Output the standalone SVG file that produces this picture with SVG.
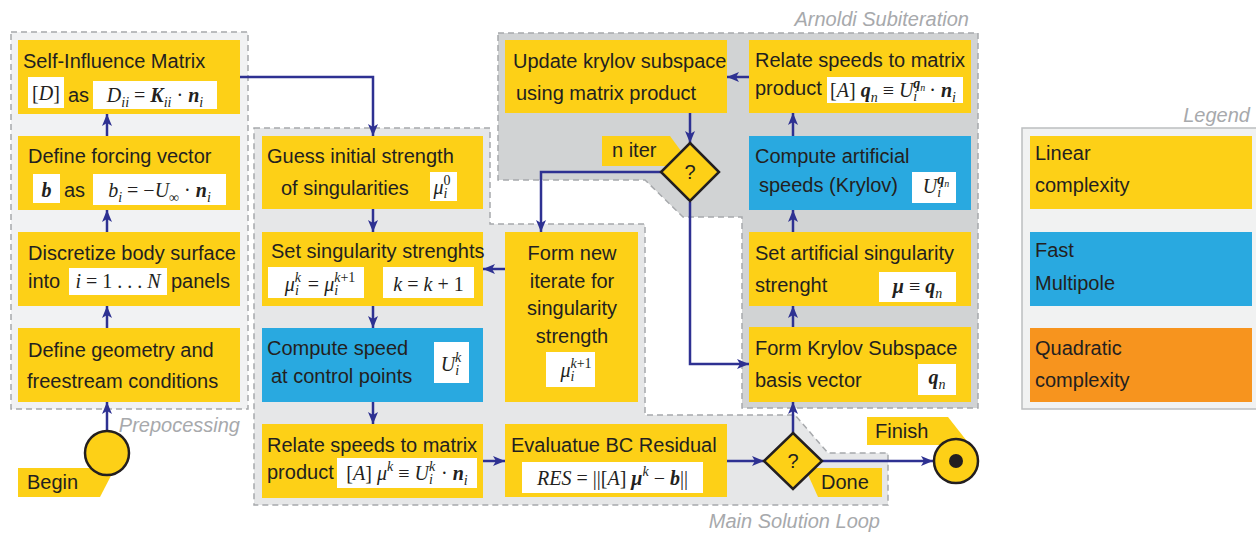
<svg xmlns="http://www.w3.org/2000/svg" width="1256" height="533" viewBox="0 0 1256 533">
<style>
.t{font-family:"Liberation Sans",Arial,sans-serif;font-size:20px;fill:#231f20}
.lab{font-family:"Liberation Sans",Arial,sans-serif;font-size:20px;font-style:italic;fill:#a7a9ac}
.m{font-family:"Liberation Serif","Times New Roman",serif;font-size:20px;fill:#231f20}
.i{font-style:italic}
.bi{font-style:italic;font-weight:bold}
.s{font-size:14px}
.ss{font-size:10px}
.y{fill:#fdd017}
.b{fill:#29a9e0}
.o{fill:#f7941e}
.w{fill:#ffffff}
.reg{stroke:#a7a9ac;stroke-width:1.5;stroke-dasharray:6 4}
.c{fill:none;stroke:#2e3192;stroke-width:2.5;marker-end:url(#ah)}
.ol{stroke:#231f20;stroke-width:2.5}
</style>
<defs>
<marker id="ah" viewBox="0 0 12 10" refX="12" refY="5" markerWidth="12" markerHeight="10" markerUnits="userSpaceOnUse" orient="auto">
<path d="M0,0 L12,5 L0,10 L3,5 z" fill="#2e3192"/>
</marker>
</defs>

<g id="regions">
<rect class="reg" x="11" y="32" width="237" height="377" fill="#f1f2f3"/>
<path class="reg" d="M254,128 H490 V224 H645 V415 H795 L828,453 H888 V505 H254 Z" fill="#e6e7e8"/>
<path class="reg" d="M498,33 H978 V408 H742 V217 H683 L645,180 H498 Z" fill="#d1d3d4"/>
<rect x="1022" y="128" width="240" height="281" fill="#f1f2f2" stroke="#bcbec0" stroke-width="1.5"/>
<text class="lab" x="240" y="432" text-anchor="end">Prepocessing</text>
<text class="lab" x="880" y="528" text-anchor="end">Main Solution Loop</text>
<text class="lab" x="969" y="26" text-anchor="end">Arnoldi Subiteration</text>
<text class="lab" x="1250" y="122" text-anchor="end">Legend</text>
</g>

<g id="connectors">
<path class="c" d="M240,77 H373 V136"/>
<path class="c" d="M107,136 V114"/>
<path class="c" d="M107,232 V210"/>
<path class="c" d="M107,328 V306"/>
<path class="c" d="M107,431 V402"/>
<path class="c" d="M373,209 V232"/>
<path class="c" d="M373,306 V328"/>
<path class="c" d="M373,402 V424"/>
<path class="c" d="M483,461 H505"/>
<path class="c" d="M505,269 H483"/>
<path class="c" d="M661,172 H541 V232"/>
<path class="c" d="M690,202 V364 H749"/>
<path class="c" d="M727,461 H764"/>
<path class="c" d="M793,433 V402"/>
<path class="c" d="M822,461 H933"/>
<path class="c" d="M749,77 H727"/>
<path class="c" d="M690,113 V143"/>
<path class="c" d="M793,327 V306"/>
<path class="c" d="M793,232 V210"/>
<path class="c" d="M793,136 V113"/>
</g>

<g id="self-influence">
<rect class="y" x="18" y="40" width="222" height="74"/>
<text class="t" x="23" y="68">Self-Influence Matrix</text>
<rect class="w" x="28" y="77" width="36" height="31"/>
<text class="m" x="46" y="100" text-anchor="middle">[<tspan class="i">D</tspan>]</text>
<text class="t" x="68" y="102">as</text>
<rect class="w" x="93" y="81" width="124" height="28"/>
<text class="m" x="155" y="102" text-anchor="middle"><tspan class="i">D</tspan><tspan class="s i" dy="5">ii</tspan><tspan dy="-5"> = </tspan><tspan class="bi">K</tspan><tspan class="s i" dy="5">ii</tspan><tspan dy="-5"> · </tspan><tspan class="bi">n</tspan><tspan class="s i" dy="5">i</tspan></text>
</g>

<g id="forcing">
<rect class="y" x="18" y="136" width="222" height="74"/>
<text class="t" x="28" y="163">Define forcing vector</text>
<rect class="w" x="33" y="174" width="27" height="29"/>
<text class="m" x="46.5" y="197" text-anchor="middle"><tspan class="bi">b</tspan></text>
<text class="t" x="64" y="197">as</text>
<rect class="w" x="93" y="174" width="133" height="31"/>
<text class="m" x="159.5" y="197" text-anchor="middle"><tspan class="i">b</tspan><tspan class="s i" dy="5">i</tspan><tspan dy="-5"> = −</tspan><tspan class="i">U</tspan><tspan class="s" dy="5">∞</tspan><tspan dy="-5"> · </tspan><tspan class="bi">n</tspan><tspan class="s i" dy="5">i</tspan></text>
</g>

<g id="discretize">
<rect class="y" x="18" y="232" width="222" height="74"/>
<text class="t" x="28" y="260">Discretize body surface</text>
<text class="t" x="28" y="288">into</text>
<rect class="w" x="69" y="268" width="98" height="27"/>
<text class="m" x="118" y="288" text-anchor="middle"><tspan class="i">i</tspan> = 1 . . . <tspan class="i">N</tspan></text>
<text class="t" x="171" y="288">panels</text>
</g>

<g id="geometry">
<rect class="y" x="18" y="328" width="222" height="74"/>
<text class="t" x="28" y="357">Define geometry and</text>
<text class="t" x="27" y="388">freestream conditions</text>
</g>

<g id="begin">
<path class="y" d="M18,468 H115 L100,497 H18 Z"/>
<text class="t" x="27" y="489">Begin</text>
<circle class="y ol" cx="107" cy="453" r="22"/>
</g>

<g id="guess">
<rect class="y" x="262" y="136" width="221" height="73"/>
<text class="t" x="267" y="163">Guess initial strength</text>
<text class="t" x="281" y="195">of singularities</text>
<rect class="w" x="430" y="172" width="27" height="29"/>
<text class="m" x="442" y="194" text-anchor="middle"><tspan class="i">μ</tspan><tspan class="s" dy="-9">0</tspan><tspan class="s i" dx="-7" dy="13">i</tspan></text>
</g>

<g id="set-singularity">
<rect class="y" x="262" y="232" width="221" height="74"/>
<text class="t" x="271" y="258">Set singularity strenghts</text>
<rect class="w" x="268" y="267" width="96" height="31"/>
<text class="m" x="320" y="291" text-anchor="middle"><tspan class="i">μ</tspan><tspan class="s i" dy="-9">k</tspan><tspan class="s i" dx="-6" dy="13">i</tspan><tspan dx="4" dy="-4"> = </tspan><tspan class="i">μ</tspan><tspan class="s" dy="-9"><tspan class="i">k</tspan>+1</tspan><tspan class="s i" dx="-21" dy="13">i</tspan></text>
<rect class="w" x="383" y="267" width="91" height="31"/>
<text class="m" x="428.5" y="291" text-anchor="middle"><tspan class="i">k</tspan> = <tspan class="i">k</tspan> + 1</text>
</g>

<g id="compute-speed">
<rect class="b" x="262" y="328" width="221" height="74"/>
<text class="t" x="267" y="355">Compute speed</text>
<text class="t" x="271" y="383">at control points</text>
<rect class="w" x="434" y="342" width="35" height="41"/>
<text class="m" x="451" y="371" text-anchor="middle"><tspan class="i">U</tspan><tspan class="s i" dy="-9">k</tspan><tspan class="s i" dx="-6" dy="13">i</tspan></text>
</g>

<g id="relate-main">
<rect class="y" x="262" y="424" width="221" height="74"/>
<text class="t" x="267" y="452">Relate speeds to  matrix</text>
<text class="t" x="267" y="479">product</text>
<rect class="w" x="337" y="458" width="140" height="30"/>
<text class="m" x="407" y="480" text-anchor="middle">[<tspan class="i">A</tspan>] <tspan class="i">μ</tspan><tspan class="s i" dy="-9">k</tspan><tspan dy="9"> ≡ </tspan><tspan class="i">U</tspan><tspan class="s i" dy="-9">k</tspan><tspan class="s i" dx="-6" dy="13">i</tspan><tspan dx="3" dy="-4"> · </tspan><tspan class="bi">n</tspan><tspan class="s i" dy="5">i</tspan></text>
</g>

<g id="form-new">
<rect class="y" x="505" y="232" width="133" height="170"/>
<text class="t" x="572" y="260" text-anchor="middle">Form  new</text>
<text class="t" x="572" y="288" text-anchor="middle">iterate  for</text>
<text class="t" x="572" y="315" text-anchor="middle">singularity</text>
<text class="t" x="572" y="343" text-anchor="middle">strength</text>
<rect class="w" x="546" y="352" width="49" height="35"/>
<text class="m" x="576" y="377" text-anchor="middle"><tspan class="i">μ</tspan><tspan class="s" dy="-9"><tspan class="i">k</tspan>+1</tspan><tspan class="s i" dx="-21" dy="13">i</tspan></text>
</g>

<g id="evaluate">
<rect class="y" x="505" y="424" width="222" height="73"/>
<text class="t" x="511" y="452">Evaluatue BC Residual</text>
<rect class="w" x="522" y="462" width="181" height="31"/>
<text class="m" x="612.5" y="485" text-anchor="middle"><tspan class="i">RES</tspan> = ||[<tspan class="i">A</tspan>] <tspan class="bi">μ</tspan><tspan class="s i" dy="-9">k</tspan><tspan dy="9"> − </tspan><tspan class="bi">b</tspan>||</text>
</g>

<g id="update-krylov">
<rect class="y" x="505" y="40" width="222" height="73"/>
<text class="t" x="513" y="68">Update krylov subspace</text>
<text class="t" x="516" y="100">using matrix product</text>
</g>

<g id="n-iter">
<path class="y" d="M602,136 H670 L692,166 H602 Z"/>
<text class="t" x="612" y="157">n iter</text>
<path class="y ol" d="M690,143 L719,172 L690,201 L661,172 Z"/>
<text class="t" x="690" y="179" text-anchor="middle">?</text>
</g>

<g id="relate-arnoldi">
<rect class="y" x="749" y="40" width="222" height="73"/>
<text class="t" x="755" y="67">Relate speeds to  matrix</text>
<text class="t" x="755" y="95">product</text>
<rect class="w" x="827" y="77" width="136" height="26"/>
<text class="m" x="893" y="97" text-anchor="middle">[<tspan class="i">A</tspan>] <tspan class="bi">q</tspan><tspan class="s i" dy="5">n</tspan><tspan dy="-5"> ≡ </tspan><tspan class="i">U</tspan><tspan class="s bi" dy="-9">q</tspan><tspan class="ss i" dy="3">n</tspan><tspan class="s i" dx="-12" dy="10">i</tspan><tspan dx="12" dy="-4">· </tspan><tspan class="bi">n</tspan><tspan class="s i" dy="5">i</tspan></text>
</g>

<g id="compute-artificial">
<rect class="b" x="749" y="136" width="222" height="74"/>
<text class="t" x="755" y="163">Compute artificial</text>
<text class="t" x="759" y="192">speeds (Krylov)</text>
<rect class="w" x="912" y="172" width="44" height="31"/>
<text class="m" x="936" y="193" text-anchor="middle"><tspan class="i">U</tspan><tspan class="s bi" dy="-9">q</tspan><tspan class="ss i" dy="3">n</tspan><tspan class="s i" dx="-12" dy="10">i</tspan></text>
</g>

<g id="set-artificial">
<rect class="y" x="749" y="232" width="222" height="74"/>
<text class="t" x="755" y="260">Set artificial singularity</text>
<text class="t" x="755" y="292">strenght</text>
<rect class="w" x="879" y="272" width="77" height="30"/>
<text class="m" x="917.5" y="293" text-anchor="middle"><tspan class="bi">μ</tspan> ≡ <tspan class="bi">q</tspan><tspan class="s i" dy="5">n</tspan></text>
</g>

<g id="form-krylov">
<rect class="y" x="749" y="327" width="222" height="75"/>
<text class="t" x="755" y="355">Form Krylov Subspace</text>
<text class="t" x="755" y="387">basis vector</text>
<rect class="w" x="918" y="364" width="38" height="31"/>
<text class="m" x="937" y="384" text-anchor="middle"><tspan class="bi">q</tspan><tspan class="s i" dy="5">n</tspan></text>
</g>

<g id="done">
<path class="y" d="M805,468 H882 V497 H818 Z"/>
<text class="t" x="821" y="489">Done</text>
<path class="y ol" d="M793,433 L822,461 L793,489 L764,461 Z"/>
<text class="t" x="793" y="468" text-anchor="middle">?</text>
</g>

<g id="finish">
<path class="y" d="M867,417 H948 L970,445 H867 Z"/>
<text class="t" x="875" y="438">Finish</text>
<circle class="y ol" cx="956" cy="461" r="22"/>
<circle cx="956" cy="461" r="7" fill="#231f20"/>
</g>

<g id="legend">
<rect class="y" x="1030" y="136" width="222" height="73"/>
<text class="t" x="1035" y="160">Linear</text>
<text class="t" x="1035" y="192">complexity</text>
<rect class="b" x="1030" y="232" width="222" height="74"/>
<text class="t" x="1035" y="257">Fast</text>
<text class="t" x="1035" y="290">Multipole</text>
<rect class="o" x="1030" y="328" width="222" height="74"/>
<text class="t" x="1035" y="355">Quadratic</text>
<text class="t" x="1035" y="387">complexity</text>
</g>
</svg>
